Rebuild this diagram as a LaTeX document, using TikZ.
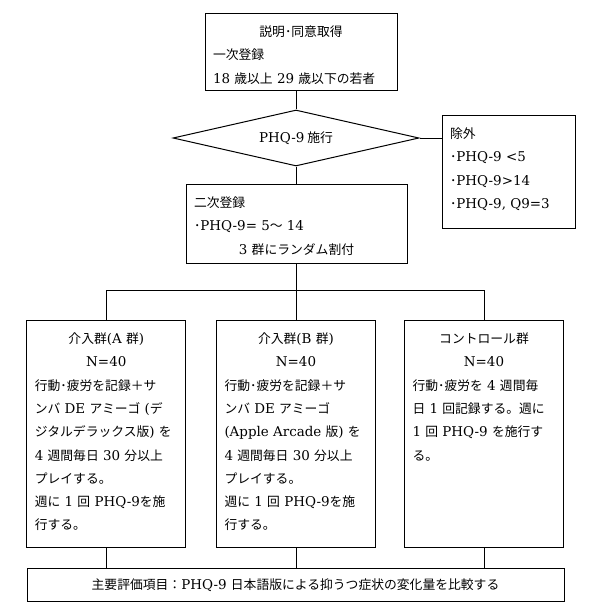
\documentclass[tikz,border=0pt]{standalone}
\usepackage{fontspec}
\setmainfont{Noto Sans CJK JP}
\newfontfamily\latfont[Scale=1.05]{DejaVu Serif}
\newcommand\lat[1]{{\latfont #1}}
\newcommand\ctr[1]{\makebox[\linewidth]{#1}}
\usetikzlibrary{shapes.geometric}
\tikzset{box/.style={draw,align=left,inner xsep=8pt,inner ysep=4pt,text height=19pt,anchor=north,font=\fontsize{12.8}{23.3}\selectfont}}
\tikzset{grp/.style={box,text width=143pt,text depth=200pt}}
\tikzset{dia/.style={diamond,draw,aspect=4.4,minimum width=246pt,minimum height=56pt,inner sep=0pt,font=\fontsize{12.8}{23.3}\selectfont}}

\begin{document}
\begin{tikzpicture}[x=1pt,y=-1pt,line width=1pt]
    \useasboundingbox (0,0) rectangle (589,615);
    \node[box,text width=176pt,text depth=50pt] (cons) at (301,13) {\ctr{説明･同意取得}\\一次登録\\ \lat{18} 歳以上 \lat{29} 歳以下の若者};
    \node[dia] (exam) at (296,138) {\lat{PHQ-9} 施行};
    \node[box,text width=117pt,text depth=86pt] (excl) at (508.5,115) {除外\\ ･\lat{PHQ-9 <5}\\ ･\lat{PHQ-9>14}\\ ･\lat{PHQ-9, Q9=3}};
    \node[box,text width=205pt,text depth=52pt] (reg2) at (296.5,184) {二次登録\\ ･\lat{PHQ-9= 5}～~\lat{14}\\ \ctr{\lat{3} 群にランダム割付}};
    \coordinate (split) at (296,290);
    \node[grp] (grpA) at (106.3,320) {\ctr{介入群\lat{(A} 群\lat{)}}\\ \ctr{\lat{N=40}}\\ 行動･疲労を記録＋サ\\ ンバ~\lat{DE}~アミーゴ~\lat{(}デ\\ ジタルデラックス版\lat{)}~を\\ \lat{4}~週間毎日~\lat{30}~分以上\\ プレイする。\\ 週に~\lat{1}~回~\lat{PHQ-9}を施\\ 行する。};
    \node[grp] (grpB) at (296,320) {\ctr{介入群\lat{(B} 群\lat{)}}\\ \ctr{\lat{N=40}}\\ 行動･疲労を記録＋サ\\ ンバ~\lat{DE}~アミーゴ\\ \lat{(Apple~Arcade}~版\lat{)}~を\\ \lat{4}~週間毎日~\lat{30}~分以上\\ プレイする。\\ 週に~\lat{1}~回~\lat{PHQ-9}を施\\ 行する。};
    \node[grp] (grpC) at (484,320) {\ctr{コントロール群}\\ \ctr{\lat{N=40}}\\ 行動･疲労を~\lat{4}~週間毎\\ 日~\lat{1}~回記録する。週に\\ \lat{1}~回~\lat{PHQ-9}~を施行す\\ る。};
    \node[box,text width=521pt,text height=17pt,text depth=8pt,align=center] (outcome) at (295.5,568) {主要評価項目：\lat{PHQ-9} 日本語版による抑うつ症状の変化量を比較する};
    \draw (cons.south -| exam.north) -- (exam.north);
    \draw (exam.south) -- (exam.south |- reg2.north);
    \draw (exam.east) -- (exam.east -| excl.west);
    \draw (reg2.south -| split) -- (split);
    \draw (grpA.north |- split) -- (grpC.north |- split);
    \foreach \g in {grpA,grpB,grpC} {
        \draw (\g.north |- split) -- (\g.north);
        \draw (\g.south) -- (\g.south |- outcome.north);
    }
\end{tikzpicture}
\end{document}
